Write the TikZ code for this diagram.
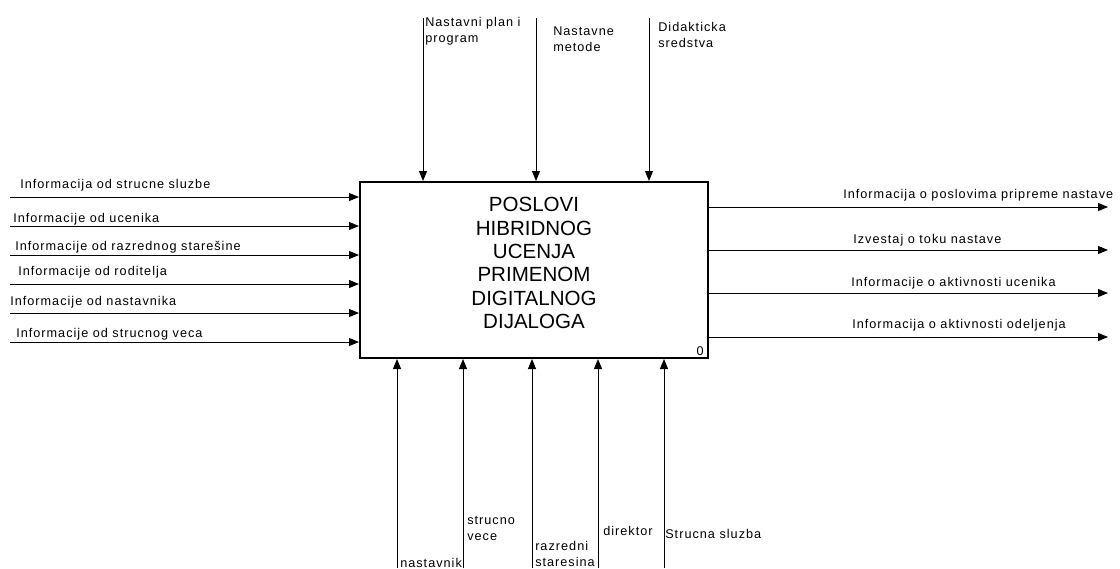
\documentclass[tikz,border=0pt]{standalone}
\usepackage{fontspec}
\setmainfont{Liberation Sans}
\newfontfamily\lblfont{Liberation Sans}[LetterSpace=8]
\usetikzlibrary{arrows.meta}
\tikzset{
  actbox/.style ={rectangle,draw,line width=1.5pt,minimum width=261pt,minimum height=132pt},
  title/.style  ={align=center,inner sep=0pt,font=\fontsize{15.4}{17.5}\selectfont},
  lbl/.style    ={anchor=base west,align=left,inner sep=0pt,
                  font=\lblfont\fontsize{9.5}{11.6}\selectfont},
  flow/.style   ={-{Triangle[length=7.5pt,width=6pt]},line width=0.75pt},
}

\begin{document}
\begin{tikzpicture}[x=0.75pt,y=-0.75pt]
  \useasboundingbox (0,0) rectangle (1120,568);
  \node[actbox] (act) at (534,270) {};
  \node[title] (ttl) at (534,263) {POSLOVI\\HIBRIDNOG\\UCENJA\\PRIMENOM\\DIGITALNOG\\DIJALOGA};
  \node[lbl,anchor=base east] (num) at (704,355) {0};
  % inputs
  \foreach \y/\lx/\ly/\name in {197/20/188/{Informacija od strucne sluzbe},
      226/13/222/{Informacije od ucenika}, 255/15/250/{Informacije od razrednog starešine},
      284/18/275/{Informacije od roditelja}, 313/10/305/{Informacije od nastavnika},
      342/16/337/{Informacije od strucnog veca}}{
    \coordinate (i\y) at (10,\y);
    \node[lbl] (li\y) at (\lx,\ly) {\name};
    \draw[flow] (i\y) -- (i\y -| act.west);
  }
  % outputs
  \foreach \y/\lx/\ly/\name in {207/843/198/{Informacija o poslovima pripreme nastave},
      250/853/243/{Izvestaj o toku nastave}, 293/851/286/{Informacije o aktivnosti ucenika},
      337/852/328/{Informacija o aktivnosti odeljenja}}{
    \coordinate (o\y) at (1108,\y);
    \node[lbl] (lo\y) at (\lx,\ly) {\name};
    \draw[flow] (o\y -| act.east) -- (o\y);
  }
  % controls (base = last line)
  \foreach \x/\lx/\ly/\name in {423/425/42/{Nastavni plan i\\program},
      536/553/51/{Nastavne\\metode}, 649/658/47/{Didakticka\\sredstva}}{
    \coordinate (c\x) at (\x,18);
    \node[lbl] (lc\x) at (\lx,\ly) {\name};
    \draw[flow] (c\x) -- (c\x |- act.north);
  }
  % mechanisms
  \foreach \x/\lx/\ly/\name in {397/400/567/{nastavnik}, 463/467/540/{strucno\\vece},
      532/535/566/{razredni\\staresina}, 598/603/535/{direktor},
      664/665/538/{Strucna sluzba}}{
    \coordinate (m\x) at (\x,568);
    \node[lbl] (lm\x) at (\lx,\ly) {\name};
    \draw[flow] (m\x) -- (m\x |- act.south);
  }
\end{tikzpicture}
\end{document}
